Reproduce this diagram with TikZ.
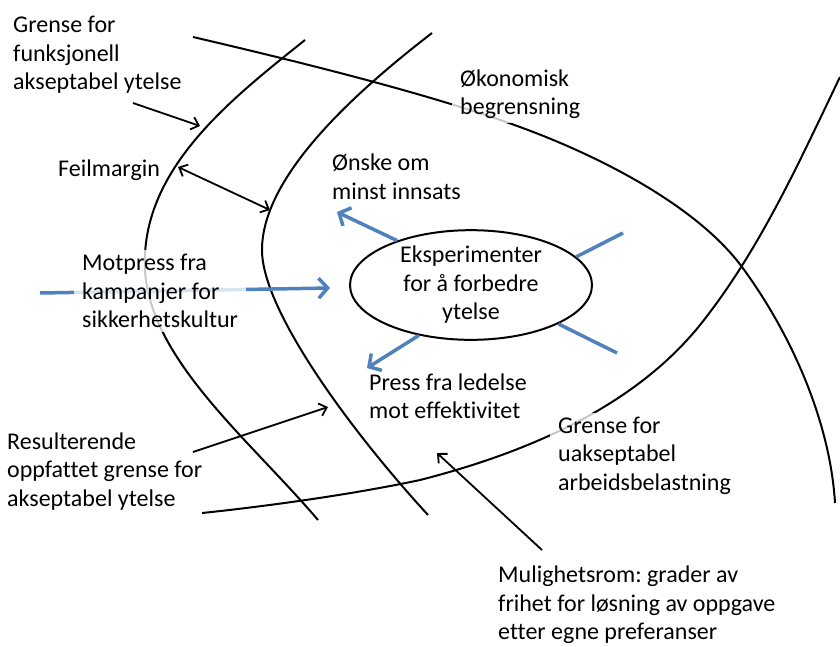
\documentclass[tikz,border=0pt]{standalone}
\usepackage{fontspec}
\setmainfont{Carlito}[Ligatures=NoCommon]
\usetikzlibrary{arrows.meta,shapes.geometric}
\frenchspacing

\definecolor{pushblue}{RGB}{79,129,189}

\tikzset{
  boundary/.style={line width=2pt, black},
  blackarrow/.style={line width=1.8pt, -{Straight Barb[length=7pt,width=13pt]}},
  blackdouble/.style={line width=1.8pt, {Straight Barb[length=7pt,width=13pt]}-{Straight Barb[length=7pt,width=13pt]}},
  bluepush/.style={line width=3.5pt, pushblue, -{Straight Barb[length=9pt,width=20pt]}},
  blueline/.style={line width=3.5pt, pushblue},
  label/.style={inner sep=0pt, align=left, anchor=west, font=\fontsize{24}{28.5}\selectfont},
  veil/.style={label, fill=white, fill opacity=0.78, text opacity=1, inner xsep=8pt, inner ysep=4pt},
  core/.style={ellipse, draw, line width=2pt, minimum width=242pt, minimum height=104pt,
               inner sep=0pt, align=center, font=\fontsize{24}{28.5}\selectfont}
}

\begin{document}
\begin{tikzpicture}[x=1pt,y=-1pt]
\useasboundingbox (0,0) rectangle (840,646);

% boundary of functionally acceptable performance
\draw[boundary] (305,40) .. controls (230,100) and (140,170) .. (145,270)
                         .. controls (150,360) and (250,440) .. (318,520);
% resulting perceived boundary
\draw[boundary] (432,33) .. controls (345,100) and (262,180) .. (262,250)
                         .. controls (262,310) and (350,430) .. (428,515);
% economic boundary
\draw[boundary] (193,37) .. controls (300,62) and (430,94) .. (520,127)
                         .. controls (610,160) and (700,210) .. (742,267)
                         .. controls (790,332) and (830,420) .. (835,503);
% boundary of unacceptable workload
\draw[boundary] (840,77) .. controls (800,160) and (760,250) .. (700,325)
                         .. controls (650,387) and (565,443) .. (420,480)
                         .. controls (350,495) and (260,507) .. (202,513);

% central experiment ellipse
\node[core] (exp) at (471,285) {Eksperimenter\\for å forbedre\\ytelse};

% blue pressures
\coordinate (pushL0) at (40,293);
\coordinate (pushL1) at (330,288);
\draw[bluepush] (pushL0) -- (pushL1);

\coordinate (tipUL) at (337,212);
\coordinate (tipLL) at (367,368);
\coordinate (endUR) at (623,233);
\coordinate (endLR) at (617,353);
\draw[bluepush] (exp.149) -- (tipUL);
\draw[bluepush] (exp.224) -- (tipLL);
\draw[blueline] (exp.15) -- (endUR);
\draw[blueline] (exp.-24) -- (endLR);

% labels
\node[label] (lfunk) at (13,55) {Grense for\\funksjonell\\akseptabel ytelse};
\node[veil] (lokon) at (452,94) {Økonomisk\\begrensning};
\node[label] (lfeil) at (58,170) {Feilmargin};
\node[label] (lonske) at (332,177) {Ønske om\\minst innsats};
\node[veil] (lmot) at (74,291) {Motpress fra\\kampanjer for\\sikkerhetskultur};
\node[label] (lpress) at (369,396) {Press fra ledelse\\mot effektivitet};
\node[label] (lres) at (7,471.5) {Resulterende\\oppfattet grense for\\akseptabel ytelse};
\node[veil] (luaks) at (550,455.5) {Grense for\\uakseptabel\\arbeidsbelastning};
\node[label] (lmul) at (498,605) {Mulighetsrom: grader av\\frihet for løsning av oppgave\\etter egne preferanser};

% black pointers
\coordinate (a1s) at (133,103);
\coordinate (a1e) at (200,126);
\coordinate (a2s) at (178,167);
\coordinate (a2e) at (270,210);
\coordinate (a3s) at (193,452);
\coordinate (a3e) at (328,407);
\coordinate (a4s) at (542,550);
\coordinate (a4e) at (437,453);
\draw[blackarrow] (a1s) -- (a1e);
\draw[blackdouble] (a2s) -- (a2e);
\draw[blackarrow] (a3s) -- (a3e);
\draw[blackarrow] (a4s) -- (a4e);
\end{tikzpicture}
\end{document}
